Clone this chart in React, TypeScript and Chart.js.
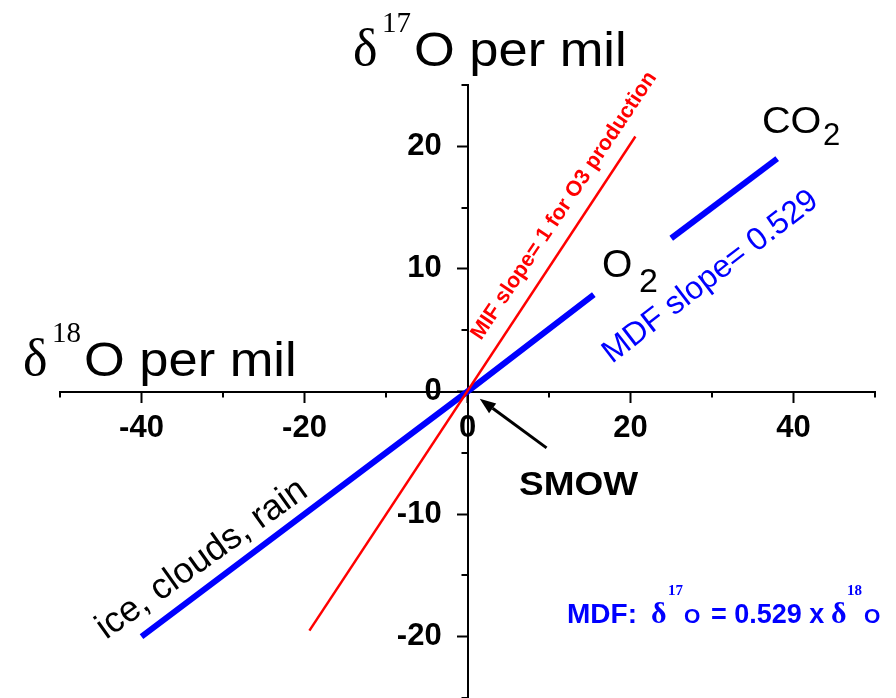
import React, { useEffect, useRef } from "react";
import { Chart, registerables } from "chart.js";

Chart.register(...registerables);

// ---- data ----
const mdfLowerX = [-40, 0, 15.5];
const mdfLowerY = [-20, 0, 7.9];
const mdfUpperX = [25, 38];
const mdfUpperY = [12.5, 19];
const mifX = [-19.4, 20.6];
const mifY = [-19.5, 20.8];

const xTickLabels = [-40, -20, 0, 20, 40];
const yTickLabels = [-20, -10, 0, 10, 20];
const xMinorTicks = [-50, -30, -10, 10, 30, 50];
const yMinorTicks = [-25, -15, -5, 5, 15, 25];

const smowArrowX = [9.7, 1.5]; // tail, tip
const smowArrowY = [-4.6, -0.6];

const SANS = '"Liberation Sans", Arial, sans-serif';
const SERIF = '"Liberation Serif", "Times New Roman", serif';

const toPts = (xs: number[], ys: number[]) => xs.map((x, i) => ({ x, y: ys[i] }));

const annotPlugin = {
  id: "annot",
  afterDraw(chart: any) {
    const { ctx } = chart;
    const xs = chart.scales.x;
    const ys = chart.scales.y;
    const x0 = xs.getPixelForValue(0);
    const y0 = ys.getPixelForValue(0);
    ctx.save();
    // minor ticks
    ctx.strokeStyle = "#000";
    ctx.lineWidth = 2;
    xMinorTicks.forEach((v) => {
      const px = Math.round(xs.getPixelForValue(v));
      ctx.beginPath();
      ctx.moveTo(px, y0);
      ctx.lineTo(px, y0 + 6);
      ctx.stroke();
    });
    yMinorTicks.forEach((v) => {
      const py = Math.round(ys.getPixelForValue(v));
      ctx.beginPath();
      ctx.moveTo(x0, py);
      ctx.lineTo(x0 - 6, py);
      ctx.stroke();
    });

    const put = (s: string, x: number, y: number, font: string, color: string, rot = 0, sx = 1) => {
      ctx.save();
      ctx.translate(x, y);
      if (rot) ctx.rotate((rot * Math.PI) / 180);
      if (sx !== 1) ctx.scale(sx, 1);
      ctx.font = font;
      ctx.fillStyle = color;
      ctx.textAlign = "left";
      ctx.textBaseline = "alphabetic";
      ctx.fillText(s, 0, 0);
      ctx.restore();
    };

    // axis titles
    put("\u03b4", 353, 65, `52px ${SERIF}`, "#000");
    put("17", 382, 32, `29px ${SERIF}`, "#000");
    put("O per mil", 414, 66, `49px ${SANS}`, "#000", 0, 1.07);

    put("\u03b4", 23, 375, `52px ${SERIF}`, "#000");
    put("18", 52, 342, `29px ${SERIF}`, "#000");
    put("O per mil", 84, 376, `49px ${SANS}`, "#000", 0, 1.07);

    // CO2, O2
    put("CO", 762, 133, `37px ${SANS}`, "#000", 0, 1.07);
    put("2", 823, 145, `31px ${SANS}`, "#000");
    put("O", 602, 277, `39px ${SANS}`, "#000");
    put("2", 639, 292, `34px ${SANS}`, "#000");

    // rotated labels
    put("MDF slope= 0.529", 612, 364, `32px ${SANS}`, "#0000ff", -37.6);
    put("MIF slope= 1 for O3 production", 481, 341, `bold 21.5px ${SANS}`, "#ff0000", -56.3);
    put("ice, clouds, rain", 106, 640, `36px ${SANS}`, "#000", -35.5);

    // SMOW
    put("SMOW", 519, 495, `bold 33px ${SANS}`, "#000", 0, 1.12);
    const tx = xs.getPixelForValue(smowArrowX[0]);
    const ty = ys.getPixelForValue(smowArrowY[0]);
    const hx = xs.getPixelForValue(smowArrowX[1]);
    const hy = ys.getPixelForValue(smowArrowY[1]);
    const ang = Math.atan2(hy - ty, hx - tx);
    const hl = 16, hw = 6;
    const bx = hx - hl * Math.cos(ang);
    const by = hy - hl * Math.sin(ang);
    ctx.strokeStyle = "#000";
    ctx.lineWidth = 3;
    ctx.beginPath();
    ctx.moveTo(tx, ty);
    ctx.lineTo(bx, by);
    ctx.stroke();
    ctx.fillStyle = "#000";
    ctx.beginPath();
    ctx.moveTo(hx, hy);
    ctx.lineTo(bx + hw * Math.sin(ang), by - hw * Math.cos(ang));
    ctx.lineTo(bx - hw * Math.sin(ang), by + hw * Math.cos(ang));
    ctx.closePath();
    ctx.fill();

    // formula
    const B = "#0000ff";
    put("MDF:", 567, 623, `bold 28px ${SANS}`, B);
    put("\u03b4", 651, 623, `bold 30px ${SERIF}`, B);
    put("17", 668, 595, `bold 15px ${SERIF}`, B);
    put("O", 684, 623, `bold 21px ${SANS}`, B);
    put("= 0.529 x", 711, 623, `bold 27px ${SANS}`, B);
    put("\u03b4", 831, 623, `bold 30px ${SERIF}`, B);
    put("18", 847, 595, `bold 15px ${SERIF}`, B);
    put("O", 864, 623, `bold 21px ${SANS}`, B);

    ctx.restore();
  },
};

export default function App() {
  const ref = useRef<HTMLCanvasElement | null>(null);
  useEffect(() => {
    if (!ref.current) return;
    const tickFont = { family: SANS, size: 31, weight: "bold" as const };
    const chart = new Chart(ref.current, {
      type: "scatter",
      data: {
        datasets: [
          {
            label: "MIF",
            data: toPts(mifX, mifY),
            showLine: true,
            borderColor: "#ff0000",
            borderWidth: 2.5,
            pointRadius: 0,
            borderCapStyle: "butt",
          },
          {
            label: "MDF lower",
            data: toPts(mdfLowerX, mdfLowerY),
            showLine: true,
            borderColor: "#0000ff",
            borderWidth: 6,
            pointRadius: 0,
            borderCapStyle: "butt",
          },
          {
            label: "MDF upper",
            data: toPts(mdfUpperX, mdfUpperY),
            showLine: true,
            borderColor: "#0000ff",
            borderWidth: 6,
            pointRadius: 0,
            borderCapStyle: "butt",
          },
        ],
      },
      options: {
        animation: false,
        responsive: true,
        maintainAspectRatio: false,
        layout: { padding: { left: 60, right: 21, top: 85, bottom: 0 } },
        plugins: { legend: { display: false }, tooltip: { enabled: false } },
        scales: {
          x: {
            type: "linear",
            min: -50,
            max: 50,
            position: { y: 0 } as any,
            afterFit: (s: any) => {
              s.height = 0;
              s.paddingLeft = 0;
              s.paddingRight = 0;
              s.paddingTop = 0;
              s.paddingBottom = 0;
            },
            border: { display: true, color: "#000", width: 2 },
            grid: {
              drawOnChartArea: false,
              drawTicks: true,
              tickLength: 10,
              tickWidth: 2,
              tickColor: (c: any) =>
                c.tick && xTickLabels.includes(c.tick.value) ? "#000" : "rgba(0,0,0,0)",
            },
            ticks: {
              stepSize: 10,
              autoSkip: false,
              maxRotation: 0,
              color: "#000",
              padding: 8,
              font: tickFont,
              callback: (v: any) => (xTickLabels.includes(Number(v)) ? String(v) : ""),
            },
          },
          y: {
            type: "linear",
            min: -25,
            max: 25,
            position: { x: 0 } as any,
            afterFit: (s: any) => {
              s.width = 0;
              s.paddingLeft = 0;
              s.paddingRight = 0;
              s.paddingTop = 0;
              s.paddingBottom = 0;
            },
            border: { display: true, color: "#000", width: 2 },
            grid: {
              drawOnChartArea: false,
              drawTicks: true,
              tickLength: 10,
              tickWidth: 2,
              tickColor: (c: any) =>
                c.tick && yTickLabels.includes(c.tick.value) ? "#000" : "rgba(0,0,0,0)",
            },
            ticks: {
              stepSize: 5,
              autoSkip: false,
              color: "#000",
              padding: 13,
              font: tickFont,
              // labels sit at the axis line in centred mode; trailing spaces push them left
              callback: (v: any) => (yTickLabels.includes(Number(v)) ? String(v) + "   " : ""),
            },
          },
        },
      },
      plugins: [annotPlugin],
    });
    return () => chart.destroy();
  }, []);
  return (
    <div style={{ position: "fixed", left: 0, top: 0, width: 896, height: 698, background: "#fff" }}>
      <canvas ref={ref} />
    </div>
  );
}
